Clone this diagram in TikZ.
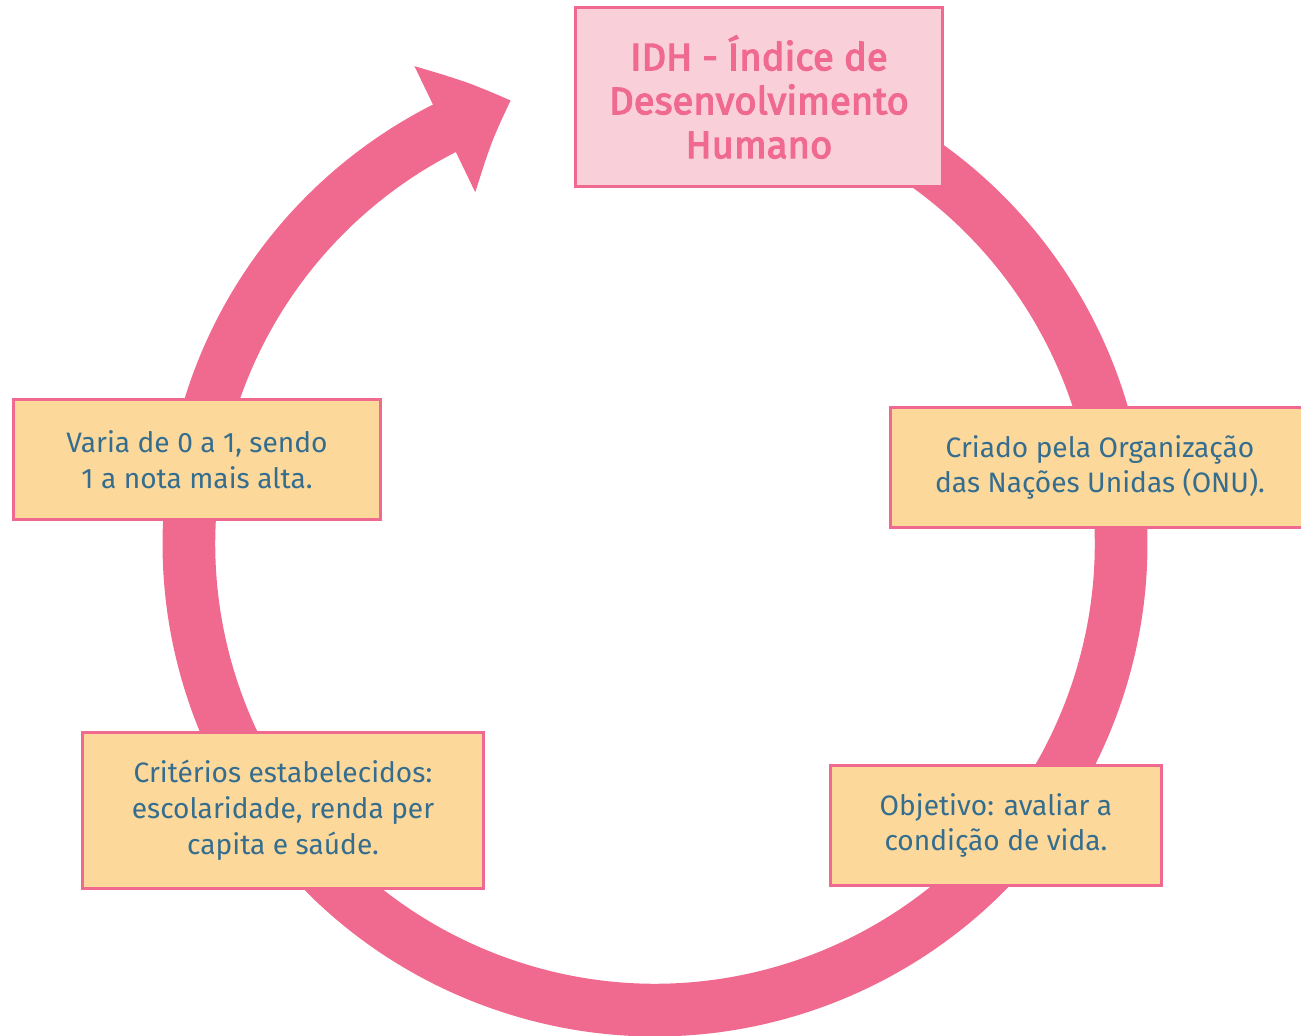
\documentclass[tikz,border=0pt]{standalone}
\usepackage{fontspec}
\setmainfont{Fira Sans}
\newfontfamily\titlefont{Fira Sans}[FakeBold=3]
\usetikzlibrary{arrows.meta,bending,calc}
\definecolor{ringpink}{HTML}{F06A8F}
\definecolor{boxyellow}{HTML}{FDD89B}
\definecolor{textblue}{HTML}{346D8E}
\definecolor{titlefill}{HTML}{F9CFDA}
\tikzset{ring/.style={ringpink, line width=30pt},
  infobox/.style={draw=ringpink, fill=boxyellow, line width=1.7pt, align=center, text=textblue,
    font=\fontsize{16}{20.4}\selectfont, inner sep=0pt},
  titlebox/.style={infobox, fill=titlefill, text=ringpink,
    font=\titlefont\fontsize{21.8}{25}\selectfont}}

\begin{document}
\begin{tikzpicture}[x=0.02cm, y=0.02cm]
  \useasboundingbox (0,0) rectangle (1301,1035);

  % the cycle
  \coordinate (o) at (655,491);
  \draw[ring, -{Triangle[width=2.7cm, length=1.45cm, bend]}]
    ($(o)+(70:466)$) arc[start angle=70, end angle=-252, radius=466];

  \node[titlebox, minimum width=7.36cm, minimum height=3.6cm] (idh) at (759,938)
    {IDH - Índice de\\Desenvolvimento\\Humano};
  \node[infobox, minimum width=7.36cm, minimum height=2.42cm] (varia) at (197,575.5)
    {Varia de 0 a 1, sendo\\1 a nota mais alta.};
  \node[infobox, minimum width=8.4cm, minimum height=2.42cm] (criado) at (1100,567.5)
    {Criado pela Organização\\das Nações Unidas (ONU).};
  \node[infobox, minimum width=8.04cm, minimum height=3.14cm] (criterios) at (283,224.5)
    {Critérios estabelecidos:\\escolaridade, renda per\\capita e saúde.};
  \node[infobox, minimum width=6.64cm, minimum height=2.42cm] (objetivo) at (996,209.5)
    {Objetivo: avaliar a\\condição de vida.};
\end{tikzpicture}
\end{document}
